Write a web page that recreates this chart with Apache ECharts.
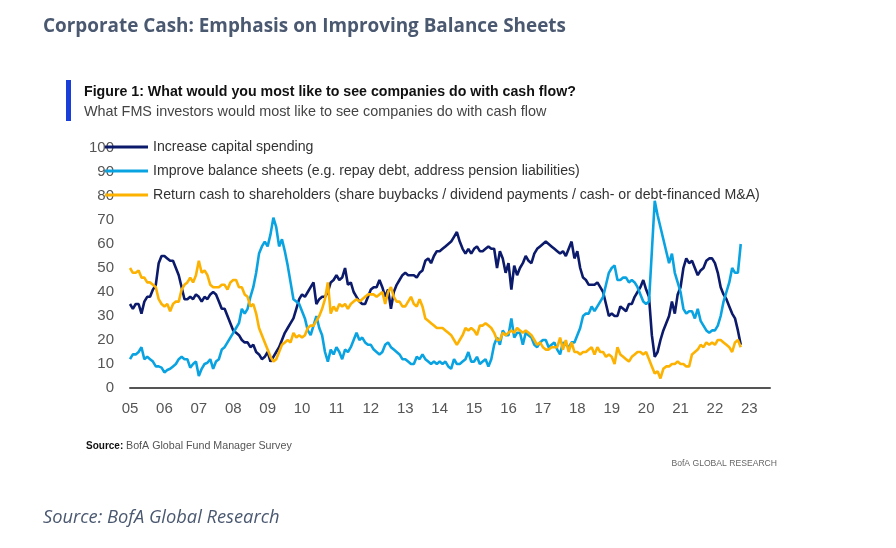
<!DOCTYPE html>
<html>
<head>
<meta charset="utf-8">
<script src="https://cdn.jsdelivr.net/npm/echarts@6/dist/echarts.min.js"></script>
<style>
  html, body { margin: 0; padding: 0; background: #ffffff; }
  #chart { width: 896px; height: 548px; }
</style>
</head>
<body>
<div id="chart"></div>
<script>
// Monthly survey readings, Jan 2005 .. Oct 2022 (% of FMS respondents)
const startYear = 2005;
const seriesNames = [
  'Increase capital spending',
  'Improve balance sheets (e.g. repay debt, address pension liabilities)',
  'Return cash to shareholders (share buybacks / dividend payments / cash- or debt-financed M&A)'
];
const capex = [
  35, 33, 35, 35, 31, 36, 38, 38, 41, 43, 52, 55,
  55, 54, 53, 53, 50, 47, 42, 37, 37, 38, 37, 39,
  38, 36, 38, 37, 39, 40, 39, 36, 33, 33, 30, 27,
  24, 23, 22, 20, 19, 19, 17, 18, 15, 14, 12, 13,
  15, 11, 13, 15, 17, 20, 23, 25, 27, 29, 33, 37,
  39, 38, 40, 42, 44, 35, 37, 38, 38, 40, 44, 45,
  47, 45, 46, 50, 43, 44, 40, 38, 36, 35, 35, 38,
  41, 42, 42, 45, 42, 38, 41, 33, 40, 43, 45, 47,
  48, 47, 47, 47, 46, 48, 49, 53, 54, 52, 55, 57,
  57, 58, 59, 60, 61, 63, 65, 61, 58, 56, 58, 56,
  58, 59, 57, 57, 58, 59, 58, 58, 50, 57, 54, 48,
  52, 41, 51, 47, 50, 52, 55, 53, 52, 56, 58, 59,
  60, 61, 60, 59, 58, 57, 56, 57, 55, 58, 61, 54,
  57, 50, 46, 45, 43, 43, 43, 44, 42, 40, 35, 30,
  31, 30, 30, 34, 33, 32, 35, 35, 38, 40, 42, 45,
  41, 38, 22, 13, 15, 20, 24, 27, 30, 36, 31, 39,
  42, 50, 54, 52, 53, 50, 47, 49, 50, 53, 54, 54,
  52, 48, 42, 39, 37, 34, 31, 29, 24, 18
];
const balance = [
  12, 14, 14, 15, 17, 12, 13, 12, 11, 9, 9, 8.5,
  6.5, 7.5, 8, 9, 10, 12, 13, 12, 12, 8.5, 10, 11,
  5, 8, 10, 10.5, 12, 8, 11, 12, 16, 17, 19, 21,
  23, 25, 27, 33, 31, 33, 38, 42, 48, 56, 59, 61,
  59, 64, 71, 67, 59, 62, 57, 51, 44, 37, 36, 35,
  32, 29, 24, 22, 26, 30, 25, 22, 15, 11, 16, 14,
  17, 15, 12, 16, 15, 17, 20, 23, 20, 21, 19, 18,
  18, 16, 15, 14, 15, 18, 19, 17, 16, 15, 14, 12,
  12, 11, 10, 10, 13, 12, 14, 12, 11, 10, 11, 10,
  11, 10, 11, 9, 8, 12, 10, 10, 11, 12, 15, 11,
  11, 13, 10, 11, 12, 9, 12, 18, 21, 18, 24, 22,
  22, 29, 21, 23, 23, 18, 23, 22, 21, 18, 17, 19,
  20, 20, 17, 18, 19, 16, 14, 19, 18, 17, 19, 19,
  22, 25, 30, 31, 31, 34, 32, 34, 36, 38, 43, 48,
  50, 51, 45, 45, 46, 46, 44, 45, 44, 42, 39, 36,
  35, 36, 57, 78, 72, 67, 62, 57, 52, 56, 48, 44,
  40, 33, 31, 32, 32, 29, 33, 28, 26, 24, 23, 24,
  24, 26, 30, 36, 40, 44, 50, 48, 48, 60
];
const returnCash = [
  50, 48, 48, 49, 46, 46, 44, 44, 43, 42, 37, 35,
  34, 35, 32, 35, 36, 36, 41, 43, 44, 46, 44, 47,
  53, 48, 49, 47, 43, 42, 42, 42, 43, 43, 41, 44,
  45, 45, 42, 42, 39, 38, 34, 35, 31, 25, 22, 19,
  16, 13, 11, 12, 15, 18, 19, 20, 19, 23, 21, 22,
  21, 22, 25, 26, 26, 28, 30, 33, 37, 44, 31, 34,
  32, 35, 34, 35, 33, 35, 36, 37, 36, 37, 38, 39,
  39, 39, 38, 39, 40, 35, 40, 42, 38, 36, 36, 34,
  34, 36, 38, 35, 34, 37, 34, 29, 28, 27, 26, 25,
  25, 25, 24, 23, 22, 20, 18, 20, 22, 25, 24, 25,
  24, 22, 26, 26, 27, 26, 25, 23, 20, 20, 23, 22,
  23, 24, 23, 25, 24, 23, 24, 23, 22, 20, 18, 19,
  17, 16, 16, 17, 17, 17, 21, 16, 20, 15, 19, 15,
  15, 14, 15, 15, 16, 17, 14, 17, 15, 15, 13, 14,
  13, 10, 17, 14, 13, 12, 11, 13, 14, 15, 15, 14,
  15, 12, 9, 6, 7, 4, 8, 9, 9, 10, 10, 11,
  10, 10, 9, 9, 14, 15, 16, 18, 17, 19, 18, 19,
  18, 20, 20, 19, 18, 17, 15, 19, 20, 17
];
const yTicks = [0, 10, 20, 30, 40, 50, 60, 70, 80, 90, 100];
const xYears = [2005, 2023];

const colors = ['#0b1a6b', '#0aa3e2', '#fdb100'];
const toPairs = arr => arr.map((v, i) => [startYear + i / 12, v]);

const chart = echarts.init(document.getElementById('chart'), null, { renderer: 'canvas' });
const axisFont = "'Liberation Sans', Arial, sans-serif";

chart.setOption({
  backgroundColor: '#ffffff',
  animation: false,
  color: colors,
  grid: { left: 130, right: 126, top: 148, bottom: 160, containLabel: false },
  legend: {
    orient: 'vertical',
    left: 105,
    top: 140,
    padding: 0,
    icon: 'rect',
    itemWidth: 43,
    itemHeight: 3,
    itemGap: 10,
    textStyle: { fontFamily: axisFont, fontSize: 14.15, lineHeight: 14, color: '#333' },
    data: seriesNames
  },
  xAxis: {
    type: 'value',
    min: xYears[0],
    max: 2023.6,
    interval: 1,
    axisLine: { show: true, lineStyle: { color: '#555', width: 2 } },
    axisTick: { show: false },
    splitLine: { show: false },
    axisLabel: {
      margin: 13,
      fontFamily: axisFont,
      fontSize: 15,
      color: '#555',
      formatter: v => (Math.abs(v - Math.round(v)) < 1e-6 && v <= xYears[1]) ? String(Math.round(v)).slice(2) : ''
    }
  },
  yAxis: {
    type: 'value',
    min: yTicks[0],
    max: yTicks[yTicks.length - 1],
    interval: 10,
    axisLine: { show: false },
    axisTick: { show: false },
    splitLine: { show: false },
    axisLabel: { margin: 16, fontFamily: axisFont, fontSize: 15, color: '#555' }
  },
  series: [
    { name: seriesNames[0], type: 'line', data: toPairs(capex), symbol: 'none', lineStyle: { width: 2.6 } },
    { name: seriesNames[1], type: 'line', data: toPairs(balance), symbol: 'none', lineStyle: { width: 2.6 } },
    { name: seriesNames[2], type: 'line', data: toPairs(returnCash), symbol: 'none', lineStyle: { width: 2.6 } }
  ],
  graphic: [
    { type: 'text', x: 43, y: 27, style: { text: 'Corporate Cash: Emphasis on Improving Balance Sheets', font: "bold 18.9px 'Open Sans', Lato, sans-serif", fill: '#4a5870', verticalAlign: 'middle' } },
    { type: 'rect', shape: { x: 66, y: 80, width: 5, height: 41 }, style: { fill: '#1a3fd8' } },
    { type: 'text', x: 84, y: 92, style: { text: 'Figure 1: What would you most like to see companies do with cash flow?', font: "bold 14.2px 'Liberation Sans', Arial, sans-serif", fill: '#111', verticalAlign: 'middle' } },
    { type: 'text', x: 84, y: 112, style: { text: 'What FMS investors would most like to see companies do with cash flow', font: "14.4px 'Liberation Sans', Arial, sans-serif", fill: '#444', verticalAlign: 'middle' } },
    { type: 'text', x: 86, y: 446, style: { text: 'Source:', font: "bold 10px 'Liberation Sans', Arial, sans-serif", fill: '#111', verticalAlign: 'middle' } },
    { type: 'text', x: 126, y: 446, style: { text: 'BofA Global Fund Manager Survey', font: "10.7px 'Liberation Sans', Arial, sans-serif", fill: '#555', verticalAlign: 'middle' } },
    { type: 'text', x: 777, y: 464, style: { text: 'BofA GLOBAL RESEARCH', font: "8.6px 'Liberation Sans', Arial, sans-serif", fill: '#666', align: 'right', verticalAlign: 'middle' } },
    { type: 'text', x: 43, y: 518, style: { text: 'Source: BofA Global Research', font: "italic 18.3px 'Open Sans', Lato, sans-serif", fill: '#4a5870', verticalAlign: 'middle' } }
  ]
});
</script>
</body>
</html>
